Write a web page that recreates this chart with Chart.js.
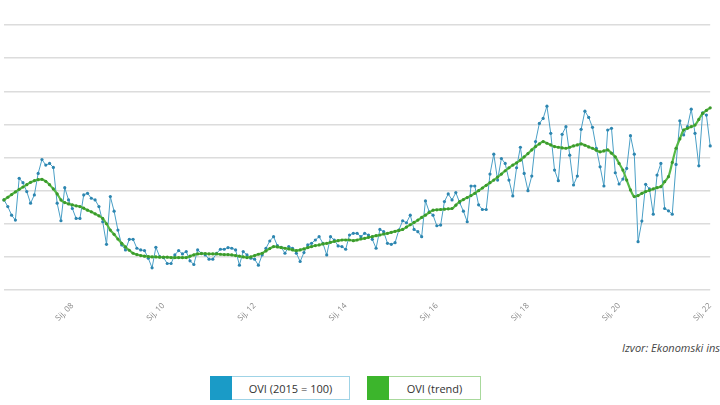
<!DOCTYPE html>
<html>
<head>
<meta charset="utf-8">
<script src="https://cdn.jsdelivr.net/npm/chart.js@4/dist/chart.umd.min.js"></script>
<style>
  html, body { margin: 0; padding: 0; width: 720px; height: 405px; overflow: hidden; background: #fff; font-family: "Open Sans", sans-serif; }
  #wrap { position: absolute; left: 0; top: 0; width: 720px; height: 330px; }
  #src { position: absolute; left: 622px; top: 340px; font-style: italic; font-size: 11px; color: #444; white-space: nowrap; }
  .leg { position: absolute; top: 376px; height: 22px; display: flex; align-items: center; font-size: 11px; color: #333; background: #fff; }
  .leg .sw { width: 22px; height: 24px; margin-left: -1px; }
  .leg .tx { flex: 1; text-align: center; }
</style>
</head>
<body>
<div id="wrap"><canvas id="myChart"></canvas></div>
<div id="src">Izvor: Ekonomski institut, Zagreb</div>
<div class="leg" style="left:210px;width:138px;border:1px solid #9fd3e6;"><div class="sw" style="background:#1a9bc7"></div><div class="tx">OVI (2015 = 100)</div></div>
<div class="leg" style="left:367px;width:112px;border:1px solid #a8d99c;"><div class="sw" style="background:#3cb52c"></div><div class="tx">OVI (trend)</div></div>
<script>
// months from Srp 2006 to Sij 2022
const monthNames = ['Sij', 'Velj', 'Ožu', 'Tra', 'Svi', 'Lip', 'Srp', 'Kol', 'Ruj', 'Lis', 'Stu', 'Pro'];
const startYear = 2006, startMonth = 6, monthCount = 187;

const ovi = [
  87.2, 85.2, 82.6, 81.1, 93.7, 92.4, 89.7, 86.2, 88.7, 95.2, 99.4, 97.7, 98.2, 97.0, 86.2, 80.9, 90.9, 87.2, 84.6, 81.6,
  81.6, 88.7, 89.2, 87.7, 87.2, 85.2, 80.6, 73.8, 88.2, 83.8, 78.1, 73.6, 72.1, 75.3, 75.3, 72.6, 72.1, 71.9, 69.6, 66.7,
  72.9, 70.1, 69.8, 68.0, 68.0, 70.6, 71.9, 70.9, 71.6, 68.8, 67.7, 72.1, 71.1, 70.6, 69.3, 69.3, 71.1, 72.3, 72.3, 72.8,
  72.6, 72.1, 67.5, 71.6, 70.6, 69.6, 69.3, 67.5, 70.6, 72.6, 74.8, 76.1, 73.4, 72.9, 71.1, 73.1, 72.6, 71.1, 68.6, 71.3,
  73.6, 74.1, 75.1, 76.1, 74.1, 70.6, 76.1, 75.1, 73.3, 73.1, 72.3, 76.6, 77.1,
  77.1, 76.1, 77.1, 76.6, 75.3, 72.6, 78.3, 77.6, 74.1, 73.8, 74.3, 78.1, 80.9, 80.3, 82.6, 78.3, 77.6, 76.1, 86.9, 83.6,
  82.6, 79.4, 79.6, 86.7, 89.0, 87.2, 89.4, 86.4, 83.8, 80.6, 91.4, 91.4, 85.7, 84.3, 84.3, 95.0, 101.0, 93.2, 99.7, 98.2,
  93.2, 88.4, 96.9, 103.1, 95.2, 90.0, 94.4, 104.8, 110.3, 111.8, 115.5, 107.3, 96.2, 93.0, 107.0, 109.3, 100.7, 91.7, 94.4, 108.5,
  114.0, 112.1, 109.1, 102.8, 97.2, 91.4, 108.3, 108.8, 95.4, 92.0, 93.5, 96.7, 106.6, 101.0, 74.6, 80.8, 91.9, 90.5, 82.9, 94.7,
  98.2, 84.6, 83.9, 82.9, 97.9, 111.1, 106.8, 109.3, 114.6, 107.3, 97.5, 113.5, 112.8, 103.5
];

const trend = [
  87.2, 88.0, 88.8, 89.6, 90.4, 91.1, 91.8, 92.5, 93.0, 93.3,
  93.4, 92.8, 91.8, 90.5, 89.0, 87.2, 86.4, 86.0, 85.7, 85.4,
  85.2, 84.7, 84.1, 83.6, 83.0, 82.4, 81.6, 80.0, 78.1, 76.8,
  75.4, 74.1, 73.0, 72.0, 71.1, 70.7, 70.4, 70.2, 70.1, 70.0,
  70.0, 69.9, 69.9, 69.9, 69.8, 69.8, 69.8, 69.8, 69.8, 70.2,
  70.6, 70.9, 71.0, 71.0, 70.9, 70.9, 70.9, 70.8, 70.7, 70.7,
  70.6, 70.4, 70.2, 70.0, 69.8, 70.0, 70.4, 70.8, 71.1, 71.8,
  72.5, 73.1, 73.0, 72.8, 72.6, 72.4, 72.1, 71.9, 72.1, 72.4,
  72.8, 73.1, 73.4, 73.6, 73.9, 74.1, 74.4, 74.7, 74.9, 75.1,
  75.1, 75.1, 74.9, 75.1, 75.4, 75.6, 75.9, 76.1, 76.4, 76.6,
  76.9, 77.1, 77.4, 77.7, 78.0, 78.3, 79.0, 79.7, 80.4, 81.1,
  81.9, 82.6, 83.4, 84.1, 84.2, 84.3, 84.4, 84.5, 84.6, 85.6,
  86.7, 87.3, 87.9, 88.5, 89.2, 90.0, 90.8, 91.6, 92.4, 93.2,
  94.1, 95.0, 96.0, 96.9, 97.7, 98.4, 99.2, 100.2, 101.2, 102.3,
  103.3, 104.1, 104.8, 104.3, 103.8, 103.3, 103.1, 102.9, 102.8, 103.1,
  103.5, 103.8, 104.1, 103.7, 103.2, 102.8, 102.2, 101.7, 102.0, 102.3,
  101.3, 100.2, 98.2, 96.2, 93.2, 90.2, 88.2, 88.5, 89.2, 89.7,
  90.1, 90.5, 90.9, 91.2, 92.7, 94.2, 98.5, 102.8, 105.6, 108.3,
  108.8, 109.3, 109.8, 111.5, 113.3, 114.2, 115.0
];

const yTicks = [60, 70, 80, 90, 100, 110, 120, 130, 140];

const labels = [];
for (let i = 0; i < monthCount; i++) {
  const m = (startMonth + i) % 12;
  const y = startYear + Math.floor((startMonth + i) / 12);
  labels.push(monthNames[m] + ', ' + String(y).slice(2));
}

const ctx = document.getElementById('myChart').getContext('2d');
new Chart(ctx, {
  type: 'line',
  data: {
    labels: labels,
    datasets: [
      { label: 'OVI (trend)', data: trend, borderColor: '#56b947', borderWidth: 2.2,
        pointRadius: 1.6, pointBackgroundColor: '#3c9a2c', pointBorderWidth: 0, tension: 0.3 },
      { label: 'OVI (2015 = 100)', data: ovi, borderColor: '#4a9fc6', borderWidth: 1,
        pointRadius: 1.6, pointBackgroundColor: '#2d86b0', pointBorderWidth: 0, tension: 0 }
    ]
  },
  options: {
    responsive: true,
    maintainAspectRatio: false,
    animation: false,
    layout: { padding: { top: 25, left: 0, right: 0, bottom: 0 } },
    plugins: { legend: { display: false }, tooltip: { enabled: false } },
    scales: {
      x: {
        offset: false,
        grid: { display: false },
        border: { display: false },
        afterFit: (scale) => { scale.height = 40; },
        ticks: {
          autoSkip: false, maxRotation: 45, minRotation: 45,
          color: '#888', font: { size: 8, family: 'Open Sans' },
          callback: function (val, i) {
            const l = labels[i];
            return (l.startsWith('Sij') && Number(l.slice(-2)) % 2 === 0) ? l : null;
          }
        }
      },
      y: {
        min: yTicks[0], max: yTicks[yTicks.length - 1],
        afterBuildTicks: (scale) => { scale.ticks = yTicks.map(v => ({ value: v })); },
        afterFit: (scale) => { scale.width = 0; },
        ticks: { display: false },
        border: { display: false },
        grid: { color: '#dcdcdc', lineWidth: 1.5, drawTicks: false }
      }
    }
  }
});
</script>
</body>
</html>
